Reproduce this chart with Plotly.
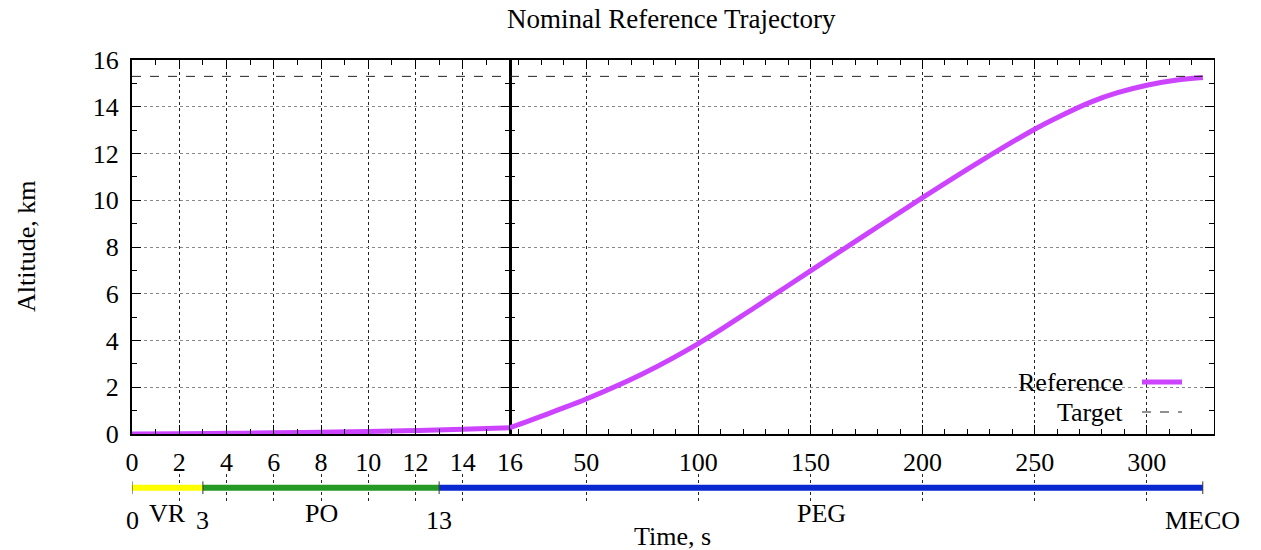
import plotly.graph_objects as go

# ---- data ----
t_left = [0, 2, 4, 6, 8, 10, 12, 14, 16]
alt_left = [0.0, 0.01, 0.03, 0.05, 0.08, 0.11, 0.15, 0.2, 0.27]
t_right = [16, 25, 38, 50, 75, 100, 125, 150, 175, 200, 225, 250, 262, 275, 287, 300, 312, 325]
alt_right = [0.27, 0.58, 1.05, 1.5, 2.57, 3.87, 5.4, 6.98, 8.55, 10.11, 11.62, 13.04, 13.63, 14.2, 14.6,
             14.92, 15.12, 15.25]
target_alt = 15.3
t_end = 325

phase_names = ["VR", "PO", "PEG"]
phase_start = [0, 3, 13]
phase_end = [3, 13, 325]
phase_colors = ["#ffff00", "#259925", "#0a28d0"]
boundary_labels = ["0", "3", "13", "MECO"]
boundary_times = [0, 3, 13, 325]

left_ticks = [0, 2, 4, 6, 8, 10, 12, 14, 16]
right_ticks = [50, 100, 150, 200, 250, 300]
y_ticks = [0, 2, 4, 6, 8, 10, 12, 14, 16]

FONT = "Liberation Serif"
FS = 26
CURVE = "#cc44ff"

split = (510 - 132) / 1082
fig = go.Figure()

# main curves
fig.add_trace(go.Scatter(x=t_left, y=alt_left, mode="lines", line=dict(color=CURVE, width=5, shape="spline"),
                         xaxis="x", yaxis="y", showlegend=False))
fig.add_trace(go.Scatter(x=t_right, y=alt_right, mode="lines", line=dict(color=CURVE, width=5, shape="spline"),
                         xaxis="x2", yaxis="y2", showlegend=False))
# target
fig.add_trace(go.Scatter(x=[0, 16], y=[target_alt, target_alt], mode="lines",
                         line=dict(color="#222", width=1, dash="dash"), xaxis="x", yaxis="y", showlegend=False))
fig.add_trace(go.Scatter(x=[16, t_end], y=[target_alt, target_alt], mode="lines",
                         line=dict(color="#222", width=1, dash="dash"), xaxis="x2", yaxis="y2", showlegend=False))

# phase bar
for s, e, c in zip(phase_start, phase_end, phase_colors):
    if s < 16:
        fig.add_trace(go.Scatter(x=[s, min(e, 16)], y=[0, 0], mode="lines", line=dict(color=c, width=6),
                                 xaxis="x", yaxis="y3", showlegend=False))
    if e > 16:
        fig.add_trace(go.Scatter(x=[max(s, 16), e], y=[0, 0], mode="lines", line=dict(color=c, width=6),
                                 xaxis="x2", yaxis="y3", showlegend=False))
for bt in boundary_times:
    xa = "x" if bt < 16 else "x2"
    fig.add_trace(go.Scatter(x=[bt, bt], y=[-0.45, 0.45], mode="lines", line=dict(color="#333", width=1),
                             xaxis=xa, yaxis="y3", showlegend=False))

ann = []
for lab, bt in zip(boundary_labels, boundary_times):
    ann.append(dict(text=lab, x=bt, xref="x" if bt < 16 else "x2", y=(530 - 520) / 470, yref="paper",
                    showarrow=False, font=dict(family=FONT, size=FS, color="#000"), yanchor="middle"))
# phase name labels
ann.append(dict(text=phase_names[0], x=(phase_start[0] + phase_end[0]) / 2, xref="x", y=(530 - 513) / 470,
                yref="paper", showarrow=False, font=dict(family=FONT, size=FS), yanchor="middle"))
ann.append(dict(text=phase_names[1], x=(phase_start[1] + phase_end[1]) / 2, xref="x", y=(530 - 513) / 470,
                yref="paper", showarrow=False, font=dict(family=FONT, size=FS), yanchor="middle"))
ann.append(dict(text=phase_names[2], x=155, xref="x2", y=(530 - 513) / 470,
                yref="paper", showarrow=False, font=dict(family=FONT, size=FS), yanchor="middle"))
# titles
ann.append(dict(text="Time, s", x=(672 - 132) / 1082, xref="paper", y=(530 - 536) / 470, yref="paper",
                showarrow=False, font=dict(family=FONT, size=FS), yanchor="middle"))
ann.append(dict(text="Altitude, km", x=(27 - 132) / 1082, xref="paper", y=(530 - 247) / 470, yref="paper",
                showarrow=False, textangle=-90, font=dict(family=FONT, size=FS), xanchor="center", yanchor="middle"))
ann.append(dict(text="Nominal Reference Trajectory", x=(671 - 132) / 1082, xref="paper", y=(530 - 19) / 470,
                yref="paper", showarrow=False, font=dict(family=FONT, size=FS + 1), yanchor="middle"))
# legend
ann.append(dict(text="Reference", x=(1125 - 132) / 1082, xref="paper", y=(530 - 382) / 470, yref="paper",
                showarrow=False, xanchor="right", yanchor="middle", font=dict(family=FONT, size=FS)))
ann.append(dict(text="Target", x=(1125 - 132) / 1082, xref="paper", y=(530 - 412) / 470, yref="paper",
                showarrow=False, xanchor="right", yanchor="middle", font=dict(family=FONT, size=FS)))
shapes = [
    dict(type="line", xref="paper", yref="paper", x0=(1142 - 132) / 1082, x1=(1182 - 132) / 1082,
         y0=(530 - 382) / 470, y1=(530 - 382) / 470, line=dict(color=CURVE, width=5)),
    dict(type="line", xref="paper", yref="paper", x0=(1142 - 132) / 1082, x1=(1182 - 132) / 1082,
         y0=(530 - 412) / 470, y1=(530 - 412) / 470, line=dict(color="#222", width=1, dash="dash")),
]

main_dom = [(530 - 434) / 470, 1]
common_x = dict(ticks="inside", ticklen=9, tickwidth=1, tickcolor="#000", showline=True, linecolor="#000",
                linewidth=2, mirror="ticks", showgrid=True, gridcolor="#222", griddash="dot", gridwidth=1,
                zeroline=False, tickfont=dict(family=FONT, size=FS, color="#000"), ticklabelstandoff=4,
                automargin=False)
common_y = dict(ticks="inside", ticklen=9, tickwidth=1, tickcolor="#000", showline=True, linecolor="#000",
                mirror="ticks", showgrid=True, gridcolor="#888", griddash="dot", gridwidth=1,
                zeroline=False, range=[0, 16], tickvals=y_ticks, automargin=False,
                minor=dict(ticks="inside", ticklen=5, tickcolor="#000", dtick=1, showgrid=False))

fig.update_layout(
    width=1261, height=550,
    margin=dict(l=132, r=47, t=60, b=20, autoexpand=False),
    paper_bgcolor="white", plot_bgcolor="white",
    font=dict(family=FONT, size=FS, color="#000"),
    showlegend=False,
    xaxis=dict(domain=[0, split], range=[0, 16], tickvals=left_ticks, anchor="y",
               minor=dict(ticks="inside", ticklen=5, tickcolor="#000", dtick=1, showgrid=False), **common_x),
    xaxis2=dict(domain=[split, 1], range=[16, 330], tickvals=right_ticks, anchor="y2",
                minor=dict(ticks="inside", ticklen=5, tickcolor="#000", dtick=10, tick0=0, showgrid=False),
                **common_x),
    yaxis=dict(domain=main_dom, anchor="x", tickfont=dict(family=FONT, size=FS, color="#000"),
               ticklabelstandoff=6, linewidth=2, **common_y),
    yaxis2=dict(domain=main_dom, anchor="x2", showticklabels=False, linewidth=1, **common_y),
    yaxis3=dict(domain=[0.06, 0.12], range=[-1, 1], visible=False, anchor="free", position=0,
                automargin=False),
    annotations=ann, shapes=shapes,
)

fig.write_html("out.html")
